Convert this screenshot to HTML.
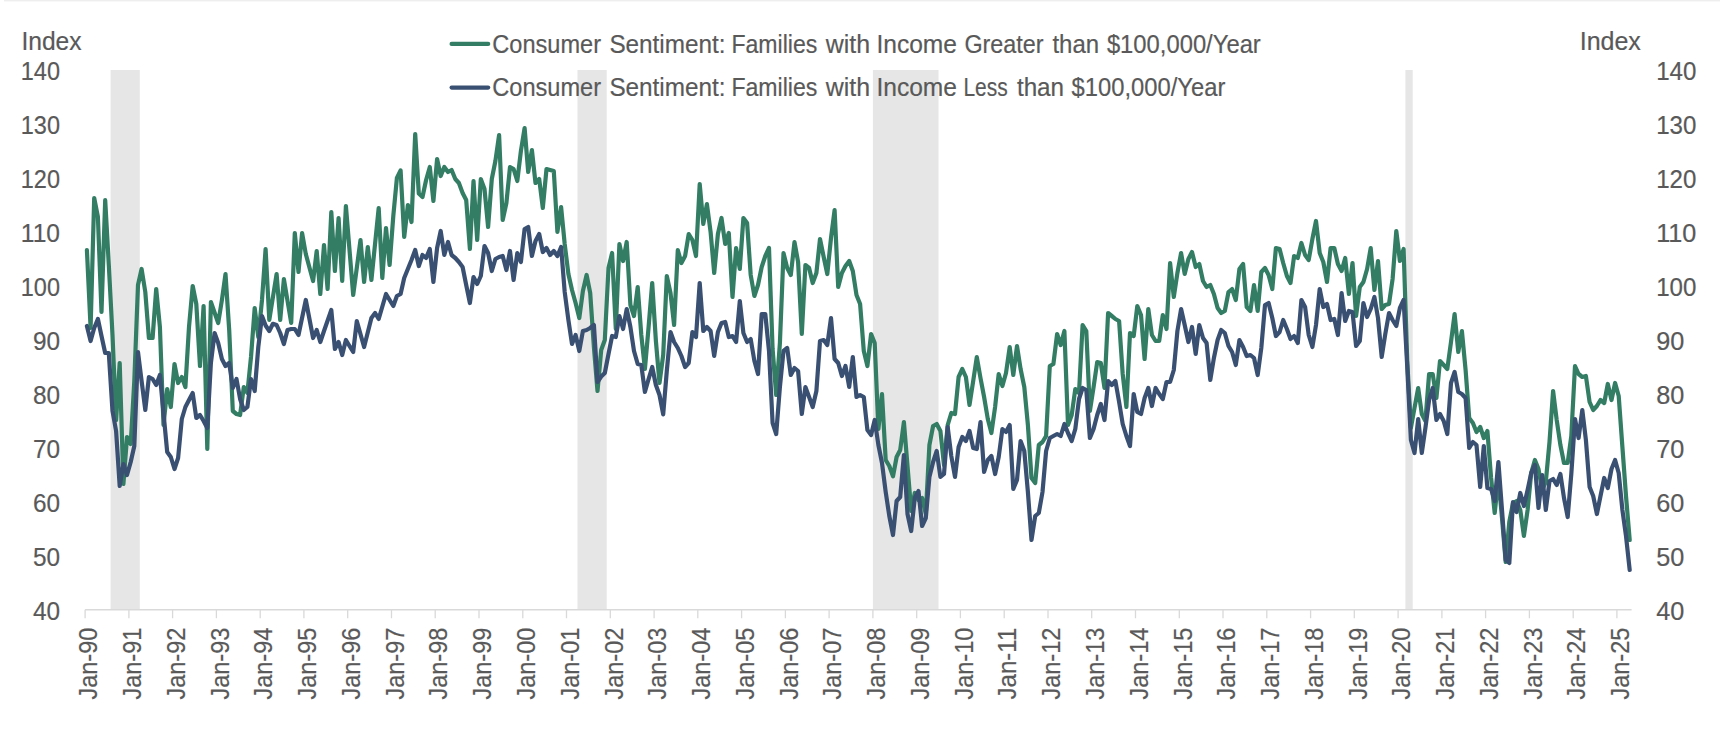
<!DOCTYPE html>
<html lang="en"><head><meta charset="utf-8"><title>Consumer Sentiment by Income</title>
<style>
html,body{margin:0;padding:0;background:#fff;}
body{width:1724px;height:736px;overflow:hidden;}
svg{display:block}
text{font-family:"Liberation Sans",Arial,sans-serif;font-size:25.6px;fill:#595959;stroke:#595959;stroke-width:0.2px;}
</style></head><body>
<svg width="1724" height="736" viewBox="0 0 1724 736">
<rect x="0" y="0" width="1724" height="736" fill="#ffffff"/>
<rect x="4" y="0" width="1716" height="1" fill="#eeeeee"/><rect x="4" y="1" width="1716" height="1" fill="#f8f8f8"/>

<rect x="110.6" y="70" width="29.2" height="539.5" fill="#e6e6e6"/>
<rect x="577.5" y="70" width="29.2" height="539.5" fill="#e6e6e6"/>
<rect x="872.9" y="70" width="65.6" height="539.5" fill="#e6e6e6"/>
<rect x="1405.4" y="70" width="7.3" height="539.5" fill="#e6e6e6"/>
<path d="M85.1 609.7H1631.6" stroke="#d9d9d9" stroke-width="1.4" fill="none"/>
<path d="M85.1 609.7V618.2M128.9 609.7V618.2M172.6 609.7V618.2M216.4 609.7V618.2M260.2 609.7V618.2M303.9 609.7V618.2M347.7 609.7V618.2M391.5 609.7V618.2M435.2 609.7V618.2M479.0 609.7V618.2M522.8 609.7V618.2M566.5 609.7V618.2M610.3 609.7V618.2M654.1 609.7V618.2M697.8 609.7V618.2M741.6 609.7V618.2M785.4 609.7V618.2M829.1 609.7V618.2M872.9 609.7V618.2M916.7 609.7V618.2M960.4 609.7V618.2M1004.2 609.7V618.2M1048.0 609.7V618.2M1091.7 609.7V618.2M1135.5 609.7V618.2M1179.3 609.7V618.2M1223.0 609.7V618.2M1266.8 609.7V618.2M1310.6 609.7V618.2M1354.3 609.7V618.2M1398.1 609.7V618.2M1441.9 609.7V618.2M1485.6 609.7V618.2M1529.4 609.7V618.2M1573.2 609.7V618.2M1616.9 609.7V618.2" stroke="#d9d9d9" stroke-width="1.3" fill="none"/>
<text x="60.0" y="619.6" text-anchor="end" textLength="27.099999999999998" lengthAdjust="spacingAndGlyphs">40</text>
<text x="1656.2" y="619.6" textLength="28.099999999999998" lengthAdjust="spacingAndGlyphs">40</text>
<text x="60.0" y="565.6" text-anchor="end" textLength="27.099999999999998" lengthAdjust="spacingAndGlyphs">50</text>
<text x="1656.2" y="565.6" textLength="28.099999999999998" lengthAdjust="spacingAndGlyphs">50</text>
<text x="60.0" y="511.6" text-anchor="end" textLength="27.099999999999998" lengthAdjust="spacingAndGlyphs">60</text>
<text x="1656.2" y="511.6" textLength="28.099999999999998" lengthAdjust="spacingAndGlyphs">60</text>
<text x="60.0" y="457.6" text-anchor="end" textLength="27.099999999999998" lengthAdjust="spacingAndGlyphs">70</text>
<text x="1656.2" y="457.6" textLength="28.099999999999998" lengthAdjust="spacingAndGlyphs">70</text>
<text x="60.0" y="403.6" text-anchor="end" textLength="27.099999999999998" lengthAdjust="spacingAndGlyphs">80</text>
<text x="1656.2" y="403.6" textLength="28.099999999999998" lengthAdjust="spacingAndGlyphs">80</text>
<text x="60.0" y="349.6" text-anchor="end" textLength="27.099999999999998" lengthAdjust="spacingAndGlyphs">90</text>
<text x="1656.2" y="349.6" textLength="28.099999999999998" lengthAdjust="spacingAndGlyphs">90</text>
<text x="60.0" y="295.6" text-anchor="end" textLength="39.2" lengthAdjust="spacingAndGlyphs">100</text>
<text x="1656.2" y="295.6" textLength="40.2" lengthAdjust="spacingAndGlyphs">100</text>
<text x="60.0" y="241.6" text-anchor="end" textLength="39.2" lengthAdjust="spacingAndGlyphs">110</text>
<text x="1656.2" y="241.6" textLength="40.2" lengthAdjust="spacingAndGlyphs">110</text>
<text x="60.0" y="187.6" text-anchor="end" textLength="39.2" lengthAdjust="spacingAndGlyphs">120</text>
<text x="1656.2" y="187.6" textLength="40.2" lengthAdjust="spacingAndGlyphs">120</text>
<text x="60.0" y="133.6" text-anchor="end" textLength="39.2" lengthAdjust="spacingAndGlyphs">130</text>
<text x="1656.2" y="133.6" textLength="40.2" lengthAdjust="spacingAndGlyphs">130</text>
<text x="60.0" y="79.6" text-anchor="end" textLength="39.2" lengthAdjust="spacingAndGlyphs">140</text>
<text x="1656.2" y="79.6" textLength="40.2" lengthAdjust="spacingAndGlyphs">140</text>
<text x="21.4" y="50.0" textLength="60.2" lengthAdjust="spacingAndGlyphs">Index</text>
<text x="1579.7" y="50.0" textLength="61.2" lengthAdjust="spacingAndGlyphs">Index</text>
<text transform="translate(97.3 699.6) rotate(-90)" textLength="72" lengthAdjust="spacingAndGlyphs">Jan-90</text>
<text transform="translate(141.1 699.6) rotate(-90)" textLength="72" lengthAdjust="spacingAndGlyphs">Jan-91</text>
<text transform="translate(184.8 699.6) rotate(-90)" textLength="72" lengthAdjust="spacingAndGlyphs">Jan-92</text>
<text transform="translate(228.6 699.6) rotate(-90)" textLength="72" lengthAdjust="spacingAndGlyphs">Jan-93</text>
<text transform="translate(272.4 699.6) rotate(-90)" textLength="72" lengthAdjust="spacingAndGlyphs">Jan-94</text>
<text transform="translate(316.1 699.6) rotate(-90)" textLength="72" lengthAdjust="spacingAndGlyphs">Jan-95</text>
<text transform="translate(359.9 699.6) rotate(-90)" textLength="72" lengthAdjust="spacingAndGlyphs">Jan-96</text>
<text transform="translate(403.7 699.6) rotate(-90)" textLength="72" lengthAdjust="spacingAndGlyphs">Jan-97</text>
<text transform="translate(447.4 699.6) rotate(-90)" textLength="72" lengthAdjust="spacingAndGlyphs">Jan-98</text>
<text transform="translate(491.2 699.6) rotate(-90)" textLength="72" lengthAdjust="spacingAndGlyphs">Jan-99</text>
<text transform="translate(535.0 699.6) rotate(-90)" textLength="72" lengthAdjust="spacingAndGlyphs">Jan-00</text>
<text transform="translate(578.7 699.6) rotate(-90)" textLength="72" lengthAdjust="spacingAndGlyphs">Jan-01</text>
<text transform="translate(622.5 699.6) rotate(-90)" textLength="72" lengthAdjust="spacingAndGlyphs">Jan-02</text>
<text transform="translate(666.3 699.6) rotate(-90)" textLength="72" lengthAdjust="spacingAndGlyphs">Jan-03</text>
<text transform="translate(710.0 699.6) rotate(-90)" textLength="72" lengthAdjust="spacingAndGlyphs">Jan-04</text>
<text transform="translate(753.8 699.6) rotate(-90)" textLength="72" lengthAdjust="spacingAndGlyphs">Jan-05</text>
<text transform="translate(797.6 699.6) rotate(-90)" textLength="72" lengthAdjust="spacingAndGlyphs">Jan-06</text>
<text transform="translate(841.3 699.6) rotate(-90)" textLength="72" lengthAdjust="spacingAndGlyphs">Jan-07</text>
<text transform="translate(885.1 699.6) rotate(-90)" textLength="72" lengthAdjust="spacingAndGlyphs">Jan-08</text>
<text transform="translate(928.9 699.6) rotate(-90)" textLength="72" lengthAdjust="spacingAndGlyphs">Jan-09</text>
<text transform="translate(972.6 699.6) rotate(-90)" textLength="72" lengthAdjust="spacingAndGlyphs">Jan-10</text>
<text transform="translate(1016.4 699.6) rotate(-90)" textLength="72" lengthAdjust="spacingAndGlyphs">Jan-11</text>
<text transform="translate(1060.2 699.6) rotate(-90)" textLength="72" lengthAdjust="spacingAndGlyphs">Jan-12</text>
<text transform="translate(1103.9 699.6) rotate(-90)" textLength="72" lengthAdjust="spacingAndGlyphs">Jan-13</text>
<text transform="translate(1147.7 699.6) rotate(-90)" textLength="72" lengthAdjust="spacingAndGlyphs">Jan-14</text>
<text transform="translate(1191.5 699.6) rotate(-90)" textLength="72" lengthAdjust="spacingAndGlyphs">Jan-15</text>
<text transform="translate(1235.2 699.6) rotate(-90)" textLength="72" lengthAdjust="spacingAndGlyphs">Jan-16</text>
<text transform="translate(1279.0 699.6) rotate(-90)" textLength="72" lengthAdjust="spacingAndGlyphs">Jan-17</text>
<text transform="translate(1322.8 699.6) rotate(-90)" textLength="72" lengthAdjust="spacingAndGlyphs">Jan-18</text>
<text transform="translate(1366.5 699.6) rotate(-90)" textLength="72" lengthAdjust="spacingAndGlyphs">Jan-19</text>
<text transform="translate(1410.3 699.6) rotate(-90)" textLength="72" lengthAdjust="spacingAndGlyphs">Jan-20</text>
<text transform="translate(1454.1 699.6) rotate(-90)" textLength="72" lengthAdjust="spacingAndGlyphs">Jan-21</text>
<text transform="translate(1497.8 699.6) rotate(-90)" textLength="72" lengthAdjust="spacingAndGlyphs">Jan-22</text>
<text transform="translate(1541.6 699.6) rotate(-90)" textLength="72" lengthAdjust="spacingAndGlyphs">Jan-23</text>
<text transform="translate(1585.4 699.6) rotate(-90)" textLength="72" lengthAdjust="spacingAndGlyphs">Jan-24</text>
<text transform="translate(1629.1 699.6) rotate(-90)" textLength="72" lengthAdjust="spacingAndGlyphs">Jan-25</text>
<path d="M86.9 250.0 L90.6 328.0 L94.2 198.0 L97.9 217.0 L101.5 312.0 L105.2 200.0 L108.8 265.0 L112.5 335.0 L116.1 420.0 L119.7 363.0 L123.4 484.0 L127.0 437.0 L130.7 444.0 L134.3 381.0 L138.0 285.0 L141.6 269.0 L145.3 292.0 L148.9 338.0 L152.6 338.0 L156.2 289.0 L159.9 327.0 L163.5 425.0 L167.2 389.0 L170.8 407.0 L174.5 364.0 L178.1 383.0 L181.8 377.0 L185.4 387.0 L189.0 327.0 L192.7 286.0 L196.3 304.0 L200.0 366.0 L203.6 306.0 L207.3 449.0 L210.9 302.0 L218.2 323.0 L221.9 300.0 L225.5 274.0 L229.2 330.0 L232.8 411.0 L236.5 414.0 L240.1 415.0 L243.8 387.0 L247.4 393.0 L251.0 357.0 L254.7 308.0 L258.3 337.0 L262.0 300.0 L265.6 249.0 L269.3 320.0 L276.6 274.0 L280.2 320.0 L283.9 279.0 L291.2 323.0 L294.8 233.0 L298.5 272.0 L302.1 233.0 L305.8 254.0 L313.1 281.0 L316.7 251.0 L320.3 294.0 L324.0 245.0 L327.6 289.0 L331.3 212.0 L334.9 271.0 L338.6 218.0 L342.2 281.0 L345.9 206.0 L353.2 295.0 L360.5 240.0 L364.1 282.0 L367.8 247.0 L371.4 280.0 L378.7 208.0 L382.3 278.0 L386.0 228.0 L389.6 265.0 L393.3 216.0 L396.9 178.0 L400.6 170.4 L404.2 237.0 L407.9 205.0 L411.5 222.0 L415.2 134.0 L418.8 193.5 L422.5 197.0 L426.1 180.0 L429.8 167.0 L433.4 201.0 L437.1 159.0 L440.7 176.0 L444.3 167.0 L448.0 172.0 L451.6 170.0 L455.3 179.0 L458.9 183.0 L462.6 193.0 L466.2 200.0 L469.9 249.0 L473.5 181.0 L477.2 240.0 L480.8 179.0 L484.5 189.0 L488.1 227.0 L491.8 179.0 L495.4 161.0 L499.1 135.0 L502.7 220.0 L506.4 203.0 L510.0 167.0 L513.6 169.0 L517.3 181.0 L520.9 151.0 L524.6 128.0 L528.2 172.0 L531.9 150.0 L535.5 183.0 L539.2 179.0 L542.8 208.0 L546.5 169.0 L550.1 170.0 L553.8 171.0 L557.4 232.0 L561.1 207.0 L564.7 244.0 L568.4 274.0 L572.0 290.0 L575.6 303.0 L579.3 318.0 L582.9 291.0 L586.6 275.0 L590.2 293.0 L593.9 347.0 L597.5 391.0 L601.2 350.0 L604.8 340.0 L608.5 268.0 L612.1 253.0 L615.8 329.0 L619.4 244.0 L623.1 261.0 L626.7 242.0 L630.4 305.0 L634.0 316.0 L637.7 287.0 L641.3 335.0 L644.9 369.0 L648.6 327.0 L652.2 283.0 L655.9 341.0 L659.5 383.0 L663.2 355.0 L666.8 276.0 L670.5 293.0 L674.1 325.0 L677.8 250.0 L681.4 263.0 L685.1 256.0 L688.7 234.0 L692.4 240.0 L696.0 256.0 L699.7 184.0 L703.3 224.0 L706.9 204.0 L710.6 232.0 L714.2 273.0 L717.9 234.0 L721.5 218.0 L725.2 244.0 L728.8 233.0 L732.5 297.0 L736.1 248.0 L739.8 269.0 L743.4 218.0 L747.1 223.0 L750.7 275.0 L754.4 296.0 L758.0 285.0 L761.7 267.0 L765.3 256.0 L769.0 248.0 L772.6 349.0 L776.2 395.0 L779.9 343.0 L783.5 253.0 L787.2 268.0 L790.8 275.0 L794.5 242.0 L798.1 262.0 L801.8 334.0 L805.4 265.0 L809.1 268.0 L812.7 283.0 L816.4 273.0 L820.0 239.0 L823.7 257.0 L827.3 274.0 L831.0 238.0 L834.6 210.0 L838.2 287.0 L841.9 273.0 L845.5 266.0 L849.2 261.0 L852.8 271.0 L856.5 295.0 L860.1 304.0 L863.8 351.0 L867.4 366.0 L871.1 334.0 L874.7 343.0 L878.4 429.0 L882.0 394.0 L885.7 460.0 L889.3 466.0 L893.0 476.3 L896.6 457.0 L900.2 450.0 L903.9 422.0 L911.2 511.0 L914.8 493.0 L918.5 500.0 L922.1 498.0 L925.8 514.0 L929.4 445.0 L933.1 426.0 L936.7 424.0 L940.4 431.0 L944.0 465.0 L947.7 425.0 L951.3 413.0 L955.0 414.0 L958.6 377.0 L962.3 369.0 L965.9 377.0 L969.5 405.0 L973.2 381.0 L976.8 357.0 L980.5 378.0 L984.1 397.0 L987.8 419.0 L991.4 433.0 L995.1 407.0 L998.7 374.0 L1002.4 386.0 L1006.0 373.0 L1009.7 347.0 L1013.3 375.0 L1017.0 346.0 L1020.6 369.0 L1024.3 387.0 L1027.9 425.0 L1031.5 478.0 L1035.2 483.0 L1038.8 445.0 L1042.5 442.0 L1046.1 436.0 L1049.8 366.0 L1053.4 364.0 L1057.1 334.0 L1060.7 345.0 L1064.4 331.0 L1068.0 425.0 L1071.7 415.0 L1075.3 389.0 L1079.0 393.0 L1082.6 325.0 L1086.3 331.0 L1089.9 411.0 L1093.6 387.0 L1097.2 362.0 L1100.8 363.0 L1104.5 388.0 L1108.1 313.0 L1111.8 316.0 L1115.4 319.0 L1119.1 321.0 L1122.7 374.0 L1126.4 407.0 L1130.0 333.0 L1133.7 336.0 L1137.3 306.0 L1141.0 315.0 L1144.6 359.0 L1148.3 309.0 L1151.9 335.0 L1155.6 341.0 L1159.2 341.0 L1162.8 315.0 L1166.5 329.0 L1170.1 263.0 L1173.8 297.0 L1177.4 273.0 L1181.1 253.0 L1184.7 274.0 L1188.4 259.0 L1192.0 252.0 L1195.7 267.0 L1199.3 264.0 L1203.0 281.0 L1206.6 287.0 L1210.3 285.0 L1213.9 294.0 L1217.6 308.0 L1221.2 313.0 L1224.8 311.0 L1228.5 292.0 L1232.1 289.0 L1235.8 300.0 L1239.4 269.0 L1243.1 264.0 L1246.7 307.0 L1250.4 311.0 L1254.0 285.0 L1257.7 311.0 L1261.3 272.0 L1265.0 268.0 L1268.6 275.0 L1272.3 289.0 L1275.9 248.0 L1279.6 249.0 L1283.2 263.0 L1286.9 276.0 L1290.5 283.0 L1294.1 256.0 L1297.8 258.0 L1301.4 243.0 L1305.1 255.0 L1308.7 260.0 L1312.4 239.0 L1316.0 221.0 L1319.7 253.0 L1323.3 262.0 L1327.0 282.0 L1330.6 248.0 L1334.3 248.0 L1337.9 264.0 L1341.6 271.0 L1345.2 258.0 L1348.9 294.0 L1352.5 263.0 L1356.1 316.0 L1359.8 287.0 L1363.4 282.0 L1367.1 269.0 L1370.7 248.0 L1374.4 290.0 L1378.0 261.0 L1381.7 309.0 L1385.3 305.0 L1389.0 304.0 L1392.6 279.0 L1396.3 231.0 L1399.9 261.0 L1403.6 249.0 L1407.2 360.0 L1410.9 428.0 L1414.5 408.0 L1418.2 388.0 L1421.8 414.0 L1425.4 421.0 L1429.1 374.0 L1432.7 374.0 L1436.4 398.0 L1440.0 361.0 L1443.7 365.0 L1447.3 369.0 L1451.0 342.0 L1454.6 314.0 L1458.3 352.0 L1461.9 331.0 L1465.6 370.0 L1469.2 418.0 L1472.9 423.0 L1476.5 432.0 L1480.2 427.0 L1483.8 438.0 L1487.4 431.0 L1491.1 478.0 L1494.7 513.0 L1498.4 478.0 L1502.0 518.0 L1505.7 562.0 L1509.3 522.0 L1513.0 503.0 L1516.6 501.0 L1520.3 510.0 L1523.9 536.0 L1527.6 510.0 L1531.2 473.0 L1534.9 460.0 L1538.5 469.0 L1542.2 490.0 L1545.8 482.0 L1549.5 442.0 L1553.1 391.0 L1556.7 420.0 L1560.4 445.0 L1564.0 463.0 L1567.7 463.0 L1571.3 436.0 L1575.0 366.0 L1578.6 374.0 L1582.3 377.0 L1585.9 376.0 L1589.6 402.0 L1593.2 410.0 L1596.9 406.0 L1600.5 400.0 L1604.2 403.0 L1607.8 384.0 L1611.5 400.0 L1615.1 383.0 L1618.7 396.0 L1622.4 447.0 L1626.0 496.0 L1629.7 540.0" fill="none" stroke="#337d65" stroke-width="4.2" stroke-linejoin="round" stroke-linecap="round"/>
<path d="M86.9 326.0 L90.6 341.0 L94.2 328.0 L97.9 319.0 L101.5 336.0 L105.2 353.0 L108.8 353.0 L112.5 411.0 L116.1 431.0 L119.7 486.0 L123.4 464.0 L127.0 475.0 L130.7 462.0 L134.3 446.0 L138.0 352.0 L141.6 381.0 L145.3 410.0 L148.9 377.0 L152.6 379.0 L156.2 385.0 L159.9 375.0 L163.5 413.0 L167.2 452.0 L170.8 457.0 L174.5 469.0 L178.1 458.0 L181.8 419.0 L185.4 407.0 L189.0 400.0 L192.7 393.0 L196.3 418.0 L200.0 415.0 L203.6 421.0 L207.3 428.0 L210.9 363.0 L214.6 333.0 L218.2 343.0 L221.9 359.0 L225.5 366.0 L229.2 363.0 L232.8 388.0 L236.5 379.0 L240.1 399.0 L243.8 410.0 L247.4 407.0 L251.0 379.0 L254.7 391.0 L258.3 347.0 L262.0 316.0 L265.6 325.5 L269.3 331.0 L272.9 323.8 L276.6 325.0 L280.2 333.0 L283.9 344.0 L287.5 330.0 L291.2 329.0 L294.8 329.0 L298.5 335.0 L305.8 300.0 L313.1 338.0 L316.7 330.0 L320.3 342.0 L324.0 331.0 L331.3 310.0 L334.9 349.0 L338.6 342.0 L342.2 355.0 L345.9 340.0 L349.5 346.0 L353.2 352.0 L356.8 321.0 L364.1 347.0 L371.4 318.0 L375.1 313.0 L378.7 319.0 L386.0 294.0 L393.3 306.0 L396.9 296.0 L400.6 294.0 L404.2 278.0 L411.5 260.0 L415.2 250.0 L418.8 266.0 L422.5 255.0 L426.1 258.0 L429.8 249.0 L433.4 282.0 L437.1 248.0 L440.7 231.0 L444.3 255.0 L448.0 242.0 L451.6 255.0 L455.3 258.0 L458.9 262.0 L462.6 267.0 L466.2 285.0 L469.9 303.0 L473.5 277.0 L477.2 284.0 L480.8 276.0 L484.5 246.0 L488.1 253.0 L491.8 271.0 L495.4 259.0 L499.1 257.0 L502.7 256.0 L506.4 270.0 L510.0 251.0 L513.6 280.0 L517.3 253.0 L520.9 262.0 L524.6 229.0 L528.2 227.0 L531.9 256.0 L535.5 241.0 L539.2 234.0 L542.8 252.0 L546.5 248.0 L550.1 255.0 L553.8 251.0 L557.4 256.0 L561.1 247.0 L564.7 292.0 L568.4 320.0 L572.0 344.0 L575.6 335.0 L579.3 351.0 L582.9 331.0 L586.6 330.0 L590.2 328.0 L593.9 325.0 L597.5 382.0 L601.2 376.6 L604.8 373.0 L608.5 354.0 L612.1 336.0 L615.8 337.0 L619.4 316.0 L623.1 329.0 L626.7 309.0 L630.4 327.0 L634.0 351.0 L637.7 364.0 L641.3 365.0 L644.9 392.0 L648.6 379.0 L652.2 367.0 L655.9 385.0 L659.5 395.0 L663.2 414.4 L666.8 371.0 L670.5 332.0 L674.1 342.0 L677.8 348.0 L681.4 356.0 L685.1 367.0 L688.7 363.0 L692.4 332.0 L696.0 337.0 L699.7 283.0 L703.3 331.0 L706.9 327.0 L710.6 331.0 L714.2 356.0 L717.9 332.0 L721.5 323.0 L725.2 322.0 L728.8 337.0 L732.5 336.0 L736.1 342.0 L739.8 301.0 L743.4 333.0 L747.1 342.0 L750.7 339.0 L754.4 361.0 L758.0 374.0 L761.7 314.0 L765.3 314.0 L769.0 351.0 L772.6 423.0 L776.2 434.0 L779.9 387.0 L783.5 351.0 L787.2 348.0 L790.8 375.0 L794.5 368.0 L798.1 371.0 L801.8 414.0 L805.4 387.0 L809.1 397.0 L812.7 407.0 L816.4 391.0 L820.0 341.0 L823.7 340.0 L827.3 345.0 L831.0 318.0 L834.6 359.0 L838.2 363.0 L841.9 376.0 L845.5 366.0 L849.2 387.0 L852.8 357.0 L856.5 397.0 L860.1 395.0 L863.8 397.0 L867.4 430.0 L871.1 435.0 L874.7 420.0 L878.4 445.0 L882.0 463.0 L885.7 492.0 L889.3 516.0 L893.0 535.0 L896.6 501.0 L900.2 497.0 L903.9 455.0 L907.5 514.0 L911.2 531.0 L914.8 498.0 L918.5 491.0 L922.1 526.0 L925.8 518.0 L929.4 477.0 L933.1 462.0 L936.7 451.0 L940.4 477.0 L944.0 474.0 L947.7 427.0 L951.3 456.0 L955.0 477.0 L958.6 447.0 L962.3 437.0 L965.9 441.0 L969.5 431.0 L973.2 448.0 L976.8 449.0 L980.5 422.0 L984.1 472.0 L987.8 460.0 L991.4 456.0 L995.1 474.0 L998.7 457.0 L1002.4 429.0 L1006.0 432.0 L1009.7 425.0 L1013.3 489.0 L1017.0 480.0 L1020.6 441.0 L1024.3 451.0 L1027.9 492.0 L1031.5 540.0 L1035.2 516.0 L1038.8 513.0 L1042.5 492.0 L1046.1 451.0 L1049.8 438.0 L1053.4 436.0 L1057.1 434.0 L1060.7 436.0 L1064.4 424.0 L1068.0 433.0 L1071.7 441.0 L1075.3 429.0 L1079.0 399.0 L1082.6 388.0 L1086.3 390.0 L1089.9 438.0 L1093.6 429.0 L1097.2 415.0 L1100.8 404.0 L1104.5 420.0 L1108.1 381.0 L1111.8 385.0 L1115.4 381.0 L1119.1 402.0 L1122.7 424.0 L1126.4 436.0 L1130.0 446.0 L1133.7 394.0 L1137.3 412.0 L1141.0 414.0 L1144.6 398.0 L1148.3 388.0 L1151.9 406.0 L1155.6 388.0 L1159.2 394.0 L1162.8 399.0 L1166.5 382.0 L1170.1 382.0 L1173.8 370.0 L1177.4 331.0 L1181.1 309.0 L1184.7 325.0 L1188.4 342.0 L1192.0 327.0 L1195.7 354.0 L1199.3 325.0 L1203.0 338.0 L1206.6 343.0 L1210.3 380.0 L1213.9 358.0 L1217.6 340.0 L1221.2 330.0 L1224.8 333.0 L1228.5 346.0 L1232.1 352.0 L1235.8 365.0 L1239.4 340.0 L1243.1 347.0 L1246.7 356.0 L1250.4 355.0 L1254.0 358.0 L1257.7 375.0 L1261.3 348.0 L1265.0 305.0 L1268.6 303.0 L1272.3 318.0 L1275.9 336.0 L1279.6 332.0 L1283.2 320.0 L1286.9 329.0 L1290.5 339.0 L1294.1 336.0 L1297.8 343.0 L1301.4 300.0 L1305.1 307.0 L1308.7 335.0 L1312.4 347.0 L1316.0 325.0 L1319.7 289.0 L1323.3 307.0 L1327.0 304.0 L1330.6 320.0 L1334.3 319.0 L1337.9 335.0 L1341.6 293.0 L1345.2 321.0 L1348.9 311.0 L1352.5 312.0 L1356.1 346.0 L1359.8 341.0 L1363.4 303.0 L1367.1 317.0 L1370.7 309.0 L1374.4 297.0 L1378.0 318.0 L1381.7 357.0 L1385.3 334.0 L1389.0 313.0 L1392.6 320.0 L1396.3 326.0 L1399.9 308.0 L1403.6 300.0 L1407.2 366.0 L1410.9 440.0 L1414.5 453.0 L1418.2 419.0 L1421.8 453.0 L1425.4 428.0 L1429.1 400.0 L1432.7 388.0 L1436.4 420.0 L1440.0 414.0 L1443.7 421.0 L1447.3 434.0 L1451.0 383.0 L1454.6 372.0 L1458.3 392.0 L1461.9 394.0 L1465.6 398.0 L1469.2 448.0 L1472.9 442.0 L1476.5 445.0 L1480.2 487.0 L1483.8 446.0 L1487.4 488.0 L1491.1 489.0 L1494.7 501.0 L1498.4 462.0 L1502.0 510.0 L1505.7 560.0 L1509.3 563.0 L1513.0 502.0 L1516.6 512.0 L1520.3 493.0 L1523.9 506.0 L1527.6 490.0 L1531.2 473.0 L1534.9 465.0 L1538.5 508.0 L1542.2 475.0 L1545.8 510.0 L1549.5 481.0 L1553.1 479.0 L1556.7 485.0 L1560.4 474.0 L1564.0 498.0 L1567.7 517.0 L1571.3 474.0 L1575.0 419.0 L1578.6 438.0 L1582.3 410.0 L1585.9 440.0 L1589.6 487.0 L1593.2 496.0 L1596.9 514.0 L1600.5 496.0 L1604.2 478.0 L1607.8 488.0 L1611.5 469.0 L1615.1 460.0 L1618.7 473.0 L1622.4 510.0 L1626.0 536.0 L1629.7 570.0" fill="none" stroke="#3a5073" stroke-width="4.2" stroke-linejoin="round" stroke-linecap="round"/>
<path d="M451.6 43.9H488.2" stroke="#337d65" stroke-width="4.2" stroke-linecap="round"/>
<path d="M451.6 87.6H488.2" stroke="#3a5073" stroke-width="4.2" stroke-linecap="round"/>
<text y="52.9"><tspan x="492.30" textLength="108.70" lengthAdjust="spacingAndGlyphs">Consumer</tspan> <tspan x="609.40" textLength="116.10" lengthAdjust="spacingAndGlyphs">Sentiment:</tspan> <tspan x="731.40" textLength="86.00" lengthAdjust="spacingAndGlyphs">Families</tspan> <tspan x="825.70" textLength="44.30" lengthAdjust="spacingAndGlyphs">with</tspan> <tspan x="876.40" textLength="80.60" lengthAdjust="spacingAndGlyphs">Income</tspan> <tspan x="964.40" textLength="79.20" lengthAdjust="spacingAndGlyphs">Greater</tspan> <tspan x="1052.40" textLength="46.70" lengthAdjust="spacingAndGlyphs">than</tspan> <tspan x="1106.90" textLength="153.90" lengthAdjust="spacingAndGlyphs">$100,000/Year</tspan></text>
<text y="95.7"><tspan x="492.30" textLength="108.70" lengthAdjust="spacingAndGlyphs">Consumer</tspan> <tspan x="609.40" textLength="116.10" lengthAdjust="spacingAndGlyphs">Sentiment:</tspan> <tspan x="731.40" textLength="86.00" lengthAdjust="spacingAndGlyphs">Families</tspan> <tspan x="825.70" textLength="44.30" lengthAdjust="spacingAndGlyphs">with</tspan> <tspan x="876.40" textLength="80.60" lengthAdjust="spacingAndGlyphs">Income</tspan> <tspan x="963.40" textLength="44.20" lengthAdjust="spacingAndGlyphs">Less</tspan> <tspan x="1016.90" textLength="47.20" lengthAdjust="spacingAndGlyphs">than</tspan> <tspan x="1071.50" textLength="153.80" lengthAdjust="spacingAndGlyphs">$100,000/Year</tspan></text>
</svg></body></html>
